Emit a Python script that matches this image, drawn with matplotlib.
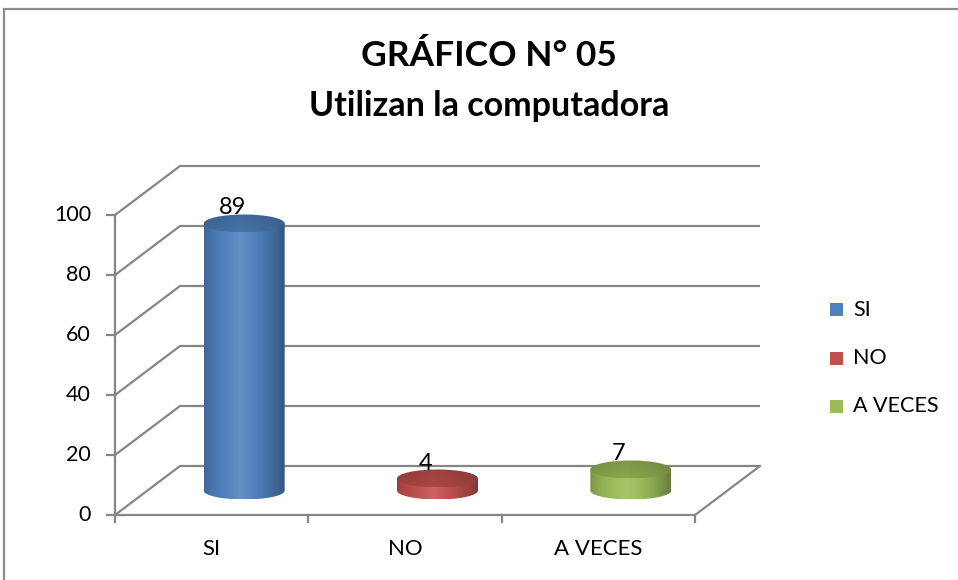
import numpy as np
import matplotlib
matplotlib.use('Agg')
import matplotlib.pyplot as plt
from matplotlib.patches import Polygon, Ellipse, Rectangle
from matplotlib.colors import to_rgb
from matplotlib.lines import Line2D

# ---------------- data ----------------
categories = ['SI', 'NO', 'A VECES']
values = [89, 4, 7]
colors = ['#4F81BD', '#C0504D', '#9BBB59']
yticks = [0, 20, 40, 60, 80, 100]
title = 'GRÁFICO N° 05'
subtitle = 'Utilizan la computadora'

plt.rcParams['font.family'] = ['Lato', 'DejaVu Sans']

W, H = 958, 580
fig = plt.figure(figsize=(W / 100, H / 100), dpi=100)
ax = fig.add_axes([0, 0, 1, 1])
ax.axis('off')

# plot geometry (pixels)
x0px, x1px = 115, 695
y0px = 515
ncat = len(categories)
sx = (x1px - x0px) / ncat          # px per category unit
sy = 3.0                            # px per value unit
xlim = (-x0px / sx, (W - x0px) / sx)
ylim = ((y0px - H) / sy, y0px / sy)
DX = 65 / sx
DY = 49 / sy
gridc = '#868686'
lw = 1.6

# back wall gridlines + left wall diagonals
for t in yticks:
    ax.plot([0, DX, ncat + DX], [t, t + DY, t + DY], color=gridc, lw=lw, zorder=1,
            solid_capstyle='butt')
    ax.plot([-8 / sx, 0], [t, t], color=gridc, lw=lw, zorder=1)
    ax.text(-24 / sx, t, str(t), ha='right', va='center', fontsize=15.5, color='black')
# axes
ax.plot([0, 0], [0, yticks[-1]], color=gridc, lw=lw, zorder=1)
ax.plot([0, ncat, ncat + DX], [0, 0, DY], color=gridc, lw=lw, zorder=1)
for i in range(ncat + 1):
    ax.plot([i, i], [0, -7 / sy], color=gridc, lw=lw, zorder=1)
for i, c in enumerate(categories):
    ax.text(i + 0.5, -(549 - y0px) / sy, c, ha='center', va='center', fontsize=16)


def shade(rgb, f):
    rgb = np.array(rgb)
    if f < 1:
        return rgb * f
    return rgb + (1 - rgb) * (f - 1)


tpos = [0.0, 0.12, 0.45, 0.7, 0.9, 1.0]
tfac = [0.80, 0.92, 1.12, 0.95, 0.78, 0.66]
N = 200
hw = 40.5 / sx
eh = 9.0 / sy
for i, (v, col) in enumerate(zip(values, colors)):
    base_rgb = to_rgb(col)
    cx = i + 0.5 + DX / 2
    base = DY / 2
    top = base + v
    # side
    th = np.linspace(np.pi, 2 * np.pi, 80)
    pts = [(cx - hw, top)] + [(cx + hw * np.cos(a), base + eh * np.sin(a)) for a in th] + [(cx + hw, top)]
    poly = Polygon(pts, closed=True, facecolor='none', edgecolor='none', transform=ax.transData)
    ax.add_patch(poly)
    ts = np.linspace(0, 1, N)
    fs = np.interp(ts, tpos, tfac)
    img = np.array([[shade(base_rgb, f) for f in fs]])
    im = ax.imshow(img, extent=[cx - hw, cx + hw, base - eh, top], aspect='auto',
                   interpolation='bilinear', zorder=3, origin='lower')
    im.set_clip_path(poly)
    # top ellipse
    ell = Ellipse((cx, top), 2 * hw, 2 * eh, facecolor='none', edgecolor='none',
                  transform=ax.transData)
    ax.add_patch(ell)
    rows = np.linspace(0, 1, 30)  # 0 bottom (front) -> 1 top (back)
    timg = np.array([[shade(base_rgb, (0.86 - 0.08 * r) * (np.interp(t, tpos, tfac) * 0.3 + 0.7))
                      for t in ts] for r in rows])
    im2 = ax.imshow(timg, extent=[cx - hw, cx + hw, top - eh, top + eh], aspect='auto',
                    interpolation='bilinear', zorder=4, origin='lower')
    im2.set_clip_path(ell)
    # data label
    ax.text(cx - 12 / sx, top + eh, str(v), ha='center', va='baseline', fontsize=17, zorder=5)

ax.set_xlim(*xlim)
ax.set_ylim(*ylim)
ax.set_aspect('auto')

# legend
leg_y = [309.5, 358, 406]
for c, col, yy in zip(categories, colors, leg_y):
    fig.add_artist(Rectangle((830 / W, 1 - (yy + 6.5) / H), 13 / W, 13 / H,
                             facecolor=col, edgecolor='none', transform=fig.transFigure))
    fig.text(853 / W, 1 - yy / H, c, ha='left', va='center', fontsize=15.5)

# titles
fig.text(489 / W, 1 - 66 / H, title, ha='center', va='baseline', fontsize=25.5, fontweight='bold')
fig.text(489 / W, 1 - 116 / H, subtitle, ha='center', va='baseline', fontsize=24.5, fontweight='bold')

# chart border
bc = '#8C8C8C'
fig.add_artist(Line2D([4 / W, 1], [1 - 9 / H, 1 - 9 / H], color=bc, lw=1.6, transform=fig.transFigure))
fig.add_artist(Line2D([4 / W, 4 / W], [1 - 9 / H, 0], color=bc, lw=1.6, transform=fig.transFigure))

fig.savefig('out.png', dpi=100)
